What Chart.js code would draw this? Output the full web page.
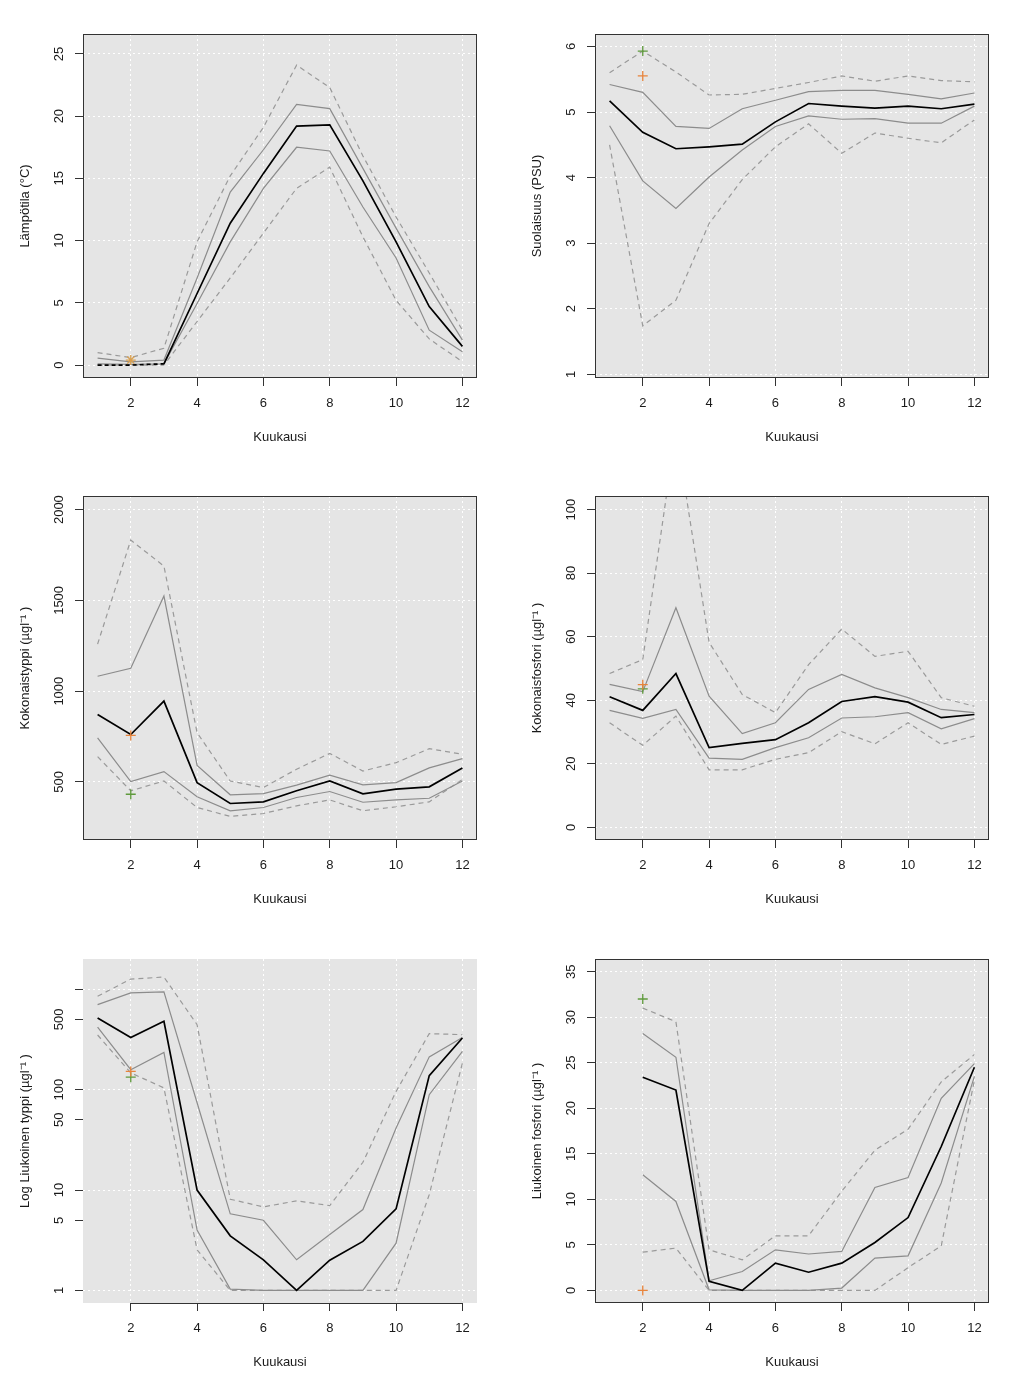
<!DOCTYPE html>
<html>
<head>
<meta charset="utf-8">
<script src="https://cdn.jsdelivr.net/npm/chart.js@4.4.0/dist/chart.umd.min.js"></script>
<style>
body{margin:0;background:#fff;}
#wrap{position:relative;width:1024px;height:1387px;}
canvas{position:absolute;}
</style>
</head>
<body>
<div id="wrap">
<canvas id="c1" width="512" height="462" style="left:0;top:0"></canvas>
<canvas id="c2" width="512" height="462" style="left:512px;top:0"></canvas>
<canvas id="c3" width="512" height="462" style="left:0;top:462px"></canvas>
<canvas id="c4" width="512" height="462" style="left:512px;top:462px"></canvas>
<canvas id="c5" width="512" height="462" style="left:0;top:925px"></canvas>
<canvas id="c6" width="512" height="462" style="left:512px;top:925px"></canvas>
</div>
<script>
// Data

const kuukaudet = [1,2,3,4,5,6,7,8,9,10,11,12];
const kuukaudet2 = [2,3,4,5,6,7,8,9,10,11,12];
const xTicks = [2,4,6,8,10,12];

// Lämpötila
const lampoMax = [1.0, 0.6, 1.35, 9.9, 15.2, 19.1, 24.1, 22.3, 16.8, 11.9, 7.4, 2.8];
const lampoQ3  = [0.55, 0.25, 0.4, 7.0, 13.9, 17.3, 20.95, 20.6, 15.8, 11.0, 6.3, 2.0];
const lampoMed = [0, 0, 0.1, 5.75, 11.4, 15.4, 19.2, 19.3, 14.8, 9.9, 4.7, 1.5];
const lampoQ1  = [0.1, 0.05, 0.1, 4.95, 9.9, 14.2, 17.5, 17.2, 12.7, 8.6, 2.8, 1.07];
const lampoMin = [0, 0, 0, 3.5, 7.0, 10.6, 14.2, 15.9, 10.3, 5.2, 2.1, 0.27];
const lampoTicks = [0,5,10,15,20,25];

// Suolaisuus
const suolaMax = [5.60, 5.93, 5.61, 5.26, 5.27, 5.36, 5.45, 5.55, 5.47, 5.55, 5.48, 5.46];
const suolaQ3  = [5.42, 5.30, 4.78, 4.75, 5.05, 5.18, 5.31, 5.33, 5.33, 5.27, 5.20, 5.29];
const suolaMed = [5.17, 4.69, 4.44, 4.47, 4.51, 4.85, 5.13, 5.09, 5.06, 5.09, 5.05, 5.12];
const suolaQ1  = [4.79, 3.95, 3.53, 4.01, 4.42, 4.78, 4.94, 4.89, 4.90, 4.83, 4.83, 5.09];
const suolaMin = [4.50, 1.74, 2.13, 3.30, 3.97, 4.47, 4.82, 4.37, 4.68, 4.60, 4.53, 4.88];
const suolaTicks = [1,2,3,4,5,6];

// Kokonaistyppi
const typpiMax = [1259, 1832, 1689, 771, 505, 469, 570, 657, 560, 606, 683, 652];
const typpiQ3  = [1082, 1126, 1524, 591, 429, 436, 482, 537, 484, 496, 577, 628];
const typpiMed = [871, 761, 945, 496, 381, 390, 451, 505, 434, 460, 473, 577];
const typpiQ1  = [743, 502, 557, 418, 341, 359, 414, 447, 388, 401, 410, 505];
const typpiMin = [639, 451, 505, 359, 310, 326, 368, 401, 341, 363, 390, 514];
const typpiTicks = [500,1000,1500,2000];

// Kokonaisfosfori
const fosforiMax = [48.4, 52.8, 125, 58.2, 41.8, 36.1, 51.2, 62.4, 53.8, 55.4, 40.8, 38.1];
const fosforiQ3  = [45.0, 42.7, 69.1, 41.3, 29.5, 32.9, 43.4, 48.1, 43.9, 40.8, 37.1, 36.1];
const fosforiMed = [41.1, 36.8, 48.4, 25.1, 26.4, 27.6, 32.9, 39.6, 41.1, 39.4, 34.5, 35.5];
const fosforiQ1  = [36.8, 34.3, 37.1, 21.8, 21.4, 25.1, 28.2, 34.4, 34.8, 36.1, 31.0, 34.2];
const fosforiMin = [32.9, 25.8, 35.0, 18.1, 18.1, 21.4, 23.5, 30.1, 26.3, 32.9, 26.1, 28.7];
const fosforiTicks = [0,20,40,60,80,100];

// Liukoinen typpi (log)
const ltyppiMax = [851, 1262, 1322, 444, 8.1, 6.8, 7.8, 7.0, 18.9, 96, 361, 353];
const ltyppiQ3  = [703, 919, 940, 74, 5.8, 5.0, 2.02, 3.6, 6.4, 41.5, 212, 331];
const ltyppiMed = [518, 331, 480, 10, 3.5, 2.02, 1, 2.0, 3.08, 6.5, 138, 327];
const ltyppiQ1  = [419, 158, 235, 4.0, 1.03, 1, 1, 1, 1, 2.96, 89, 241];
const ltyppiMin = [350, 147, 104, 2.54, 1, 1, 1, 1, 1, 1, 9.0, 184];
const ltyppiTicks = [1,5,10,50,100,500,1000];
const ltyppiLabels = ['1','5','10','50','100','500',''];

// Liukoinen fosfori (kuukaudet 2-12)
const lfosforiMax = [31.0, 29.5, 4.46, 3.36, 6.0, 6.0, 10.9, 15.4, 17.7, 22.9, 25.9];
const lfosforiQ3  = [28.2, 25.6, 1.06, 2.08, 4.46, 4.0, 4.28, 11.3, 12.4, 21.1, 24.9];
const lfosforiMed = [23.4, 22.0, 1.0, 0, 3.0, 2.0, 3.0, 5.27, 8.0, 15.8, 24.5];
const lfosforiQ1  = [12.7, 9.77, 0.07, 0, 0, 0, 0.26, 3.55, 3.8, 11.8, 23.5];
const lfosforiMin = [4.2, 4.65, 0, 0, 0, 0, 0, 0, 2.5, 4.9, 23.1];
const lfosforiTicks = [0,5,10,15,20,25,30,35];

// Havainnot kuukaudelta 2 (paneelit järjestyksessä)
const oranssi = [0.4, 5.55, 756, 44.9, 152, 0];
const vihrea  = [null, 5.93, 432, 43.6, 133, 32.0];

// Tyylit

const fontti = '"Liberation Sans", Arial, sans-serif';
const tekstiVari = '#1a1a1a';
const harmaa = '#8c8c8c';
const harmaaKatko = '#9a9a9a';

const rKehys = {
  id: 'rKehys',
  beforeDraw(chart) {
    const {ctx, chartArea: a} = chart;
    ctx.save();
    ctx.fillStyle = '#e5e5e5';
    ctx.fillRect(a.left, a.top, a.right - a.left, a.bottom - a.top);
    ctx.restore();
  },
  afterDraw(chart, args, opts) {
    const {ctx, chartArea: a} = chart;
    const xs = chart.scales.x, ys = chart.scales.y;
    ctx.save();
    ctx.strokeStyle = '#333';
    ctx.lineWidth = 1;
    if (opts.box) {
      ctx.strokeRect(Math.round(a.left) + 0.5, Math.round(a.top) + 0.5,
        Math.round(a.right - a.left) - 1, Math.round(a.bottom - a.top) - 1);
    } else {
      ctx.beginPath();
      ctx.moveTo(xs.getPixelForValue(xTicks[0]), Math.round(a.bottom) + 0.5);
      ctx.lineTo(xs.getPixelForValue(xTicks[xTicks.length - 1]), Math.round(a.bottom) + 0.5);
      ctx.stroke();
    }
    // y-akselin luvut pystyyn kuten R:ssä
    ctx.fillStyle = tekstiVari;
    ctx.font = '13px ' + fontti;
    ctx.textAlign = 'center';
    ctx.textBaseline = 'middle';
    opts.yTicks.forEach((v, i) => {
      const py = ys.getPixelForValue(v);
      ctx.save();
      ctx.translate(59, py);
      ctx.rotate(-Math.PI / 2);
      ctx.fillText(opts.yLabels ? opts.yLabels[i] : String(v), 0, 0);
      ctx.restore();
    });
    ctx.restore();
  }
};

function viiva(xs, ys, vari, leveys, katko, katkoAsti) {
  const ds = {
    type: 'line',
    data: xs.map((x, i) => ({x: x, y: ys[i]})),
    borderColor: vari,
    borderWidth: leveys,
    borderDash: katko || [],
    pointRadius: 0,
    fill: false,
    tension: 0
  };
  if (katkoAsti) {
    ds.segment = {borderDash: c => c.p1.parsed.x <= katkoAsti ? [4, 3] : undefined};
  }
  return ds;
}

function merkki(arvo, vari, tyyli) {
  return {
    type: 'scatter',
    data: arvo === null ? [] : [{x: 2, y: arvo}],
    pointStyle: tyyli || 'cross',
    pointRadius: 5,
    borderColor: vari,
    backgroundColor: vari,
    borderWidth: 1.3
  };
}

function paneeli(id, p) {
  const xs = p.xs || kuukaudet;
  new Chart(document.getElementById(id), {
    type: 'line',
    data: {
      datasets: [
        merkki(p.oranssi, p.oranssiVari || '#e8843c', p.oranssiTyyli),
        merkki(p.vihrea, '#5f9a3c'),
        viiva(xs, p.med, '#000', 1.7, null, p.katkoAsti),
        viiva(xs, p.q3, harmaa, 1.2),
        viiva(xs, p.q1, harmaa, 1.2),
        viiva(xs, p.max, harmaaKatko, 1.2, [5, 4]),
        viiva(xs, p.min, harmaaKatko, 1.2, [5, 4])
      ]
    },
    options: {
      responsive: false,
      animation: false,
      layout: {padding: {left: 0, right: 35, top: 34, bottom: 0}},
      plugins: {
        legend: {display: false},
        tooltip: {enabled: false},
        rKehys: {box: p.box !== false, yTicks: p.ticks, yLabels: p.labels}
      },
      scales: {
        x: {
          type: 'linear',
          min: 0.56, max: 12.44,
          afterBuildTicks: s => { s.ticks = xTicks.map(v => ({value: v})); },
          afterFit: s => { s.height = 84; },
          grid: {color: '#fff', lineWidth: 1, tickLength: 8, tickColor: '#333', tickWidth: 1},
          border: {display: false, dash: [2, 3]},
          ticks: {color: tekstiVari, font: {size: 13, family: fontti}, padding: 10,
            maxRotation: 0, autoSkip: false, callback: v => String(v)},
          title: {display: true, text: 'Kuukausi', color: tekstiVari,
            font: {size: 13, family: fontti}, padding: {top: 0, bottom: 17}}
        },
        y: {
          type: p.log ? 'logarithmic' : 'linear',
          min: p.min_, max: p.max_,
          afterBuildTicks: s => { s.ticks = p.ticks.map(v => ({value: v})); },
          afterFit: s => { s.width = 83; },
          grid: {
            color: c => (p.grid && !p.grid.includes(c.tick.value)) ? 'rgba(0,0,0,0)' : '#fff',
            lineWidth: 1, tickLength: 8, tickColor: '#333', tickWidth: 1
          },
          border: {display: false, dash: [2, 3]},
          ticks: {display: false},
          title: {display: true, text: p.title, color: tekstiVari,
            font: {size: 13, family: fontti}, padding: {top: 18, bottom: 0}}
        }
      }
    },
    plugins: [rKehys]
  });
}

paneeli('c1', {title: 'Lämpötila (°C)', max: lampoMax, q3: lampoQ3, med: lampoMed, q1: lampoQ1, min: lampoMin,
  ticks: lampoTicks, min_: -1.04, max_: 26.6, oranssi: oranssi[0], vihrea: vihrea[0],
  oranssiTyyli: 'star', oranssiVari: '#d9a050', katkoAsti: 3});

paneeli('c2', {title: 'Suolaisuus (PSU)', max: suolaMax, q3: suolaQ3, med: suolaMed, q1: suolaQ1, min: suolaMin,
  ticks: suolaTicks, min_: 0.944, max_: 6.19, oranssi: oranssi[1], vihrea: vihrea[1]});

paneeli('c3', {title: 'Kokonaistyppi (µgl⁻¹ )', max: typpiMax, q3: typpiQ3, med: typpiMed, q1: typpiQ1, min: typpiMin,
  ticks: typpiTicks, min_: 180, max_: 2075, oranssi: oranssi[2], vihrea: vihrea[2]});

paneeli('c4', {title: 'Kokonaisfosfori (µgl⁻¹ )', max: fosforiMax, q3: fosforiQ3, med: fosforiMed, q1: fosforiQ1, min: fosforiMin,
  ticks: fosforiTicks, min_: -3.98, max_: 104.26, oranssi: oranssi[3], vihrea: vihrea[3]});

paneeli('c5', {title: 'Log Liukoinen typpi (µgl⁻¹ )', max: ltyppiMax, q3: ltyppiQ3, med: ltyppiMed, q1: ltyppiQ1, min: ltyppiMin,
  ticks: ltyppiTicks, labels: ltyppiLabels, grid: [1, 10, 100, 1000], log: true, box: false,
  min_: 0.75, max_: 2000, oranssi: oranssi[4], vihrea: vihrea[4]});

paneeli('c6', {title: 'Liukoinen fosfori (µgl⁻¹ )', xs: kuukaudet2, max: lfosforiMax, q3: lfosforiQ3, med: lfosforiMed, q1: lfosforiQ1, min: lfosforiMin,
  ticks: lfosforiTicks, min_: -1.38, max_: 36.39, oranssi: oranssi[5], vihrea: vihrea[5]});
</script>
</body>
</html>
